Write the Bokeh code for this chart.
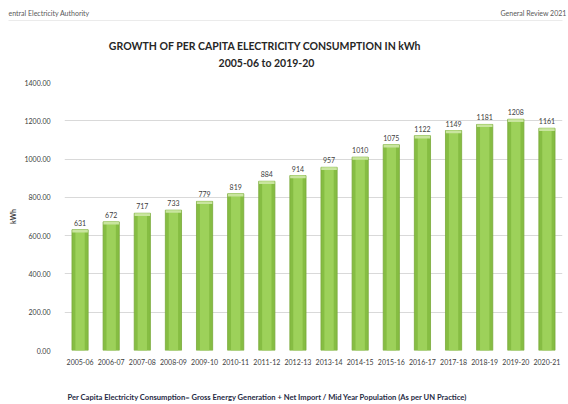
from bokeh.plotting import figure
from bokeh.models import FactorRange, Range1d, FixedTicker, CustomJSTickFormatter, ColumnDataSource
from bokeh.embed import file_html
from bokeh.resources import INLINE
from bokeh.core.properties import value

years = ["2005-06", "2006-07", "2007-08", "2008-09", "2009-10", "2010-11", "2011-12", "2012-13",
         "2013-14", "2014-15", "2015-16", "2016-17", "2017-18", "2018-19", "2019-20", "2020-21"]
consumption = [631, 672, 717, 733, 779, 819, 884, 914, 957, 1010, 1075, 1122, 1149, 1181, 1208, 1161]
y_ticks = [0, 200, 400, 600, 800, 1000, 1200, 1400]

title_text = "GROWTH OF PER CAPITA ELECTRICITY CONSUMPTION IN  kWh"
subtitle_text = "2005-06 to 2019-20"
footnote_text = "Per Capita Electricity Consumption= Gross Energy Generation + Net Import / Mid Year Population (As per UN Practice)"
header_left = "entral Electricity Authority"
header_right = "General Review 2021"

FONT = "Lato"
W = 568
TOP_H = 74
MAIN_H = 300
BOT_H = 30


def blank_fig(h):
    f = figure(width=W, height=h, x_range=Range1d(0, W), y_range=Range1d(h, 0),
               x_axis_type=None, y_axis_type=None, output_backend="svg",
               toolbar_location=None, min_border=0,
               min_border_left=0, min_border_right=0, min_border_top=0, min_border_bottom=0)
    f.outline_line_color = None
    f.grid.visible = False
    return f


# ---- header figure ----
top = blank_fig(TOP_H)
top.text(x=[8], y=[12.7], text=[header_left], text_font=value(FONT), text_font_size="7px",
         text_color="#595959", text_align="left", text_baseline="middle")
top.text(x=[566], y=[12.7], text=[header_right], text_font=value(FONT), text_font_size="7px",
         text_color="#595959", text_align="right", text_baseline="middle")
top.segment(x0=[8], x1=[562], y0=[20], y1=[20], line_color="#ebebeb", line_width=1.2)
top.text(x=[266], y=[45], text=[title_text], text_font=value(FONT), text_font_style="bold",
         text_font_size="10.5px", text_color="#262626", text_align="center", text_baseline="middle")
top.text(x=[266], y=[62], text=[subtitle_text], text_font=value(FONT), text_font_style="bold",
         text_font_size="10.5px", text_color="#262626", text_align="center", text_baseline="middle")

# ---- main chart ----
p = figure(width=W, height=MAIN_H, x_range=FactorRange(*years, range_padding=0),
           y_range=Range1d(0, 1400), output_backend="svg", toolbar_location=None,
           min_border_left=64, min_border_right=6, min_border_top=8, min_border_bottom=24)
p.outline_line_color = None

src = ColumnDataSource(dict(x=years, top=consumption,
                            cap=[v - 14 for v in consumption],
                            lab=[str(v) for v in consumption]))

p.vbar(x="x", top="top", bottom=0, width=0.52, source=src,
       fill_color="#86bd43", line_color="#78aa38", line_width=0.8)
p.vbar(x="x", top="top", bottom=0, width=0.30, source=src,
       fill_color="#9dd15a", line_color=None)
p.vbar(x="x", top="top", bottom="cap", width=0.50, source=src,
       fill_color="#c9e59f", line_color=None)

p.text(x="x", y="top", text="lab", source=src, text_align="center", text_baseline="bottom",
       y_offset=-4, text_font=value(FONT), text_font_size="7px", text_color="#404040")

p.yaxis.ticker = FixedTicker(ticks=y_ticks)
p.yaxis.formatter = CustomJSTickFormatter(code="return tick.toFixed(2);")
p.yaxis.axis_line_color = None
p.yaxis.major_tick_line_color = None
p.yaxis.minor_tick_line_color = None
p.yaxis.major_label_standoff = 8
p.yaxis.major_label_text_font = FONT
p.yaxis.major_label_text_font_size = "7px"
p.yaxis.major_label_text_color = "#404040"
p.yaxis.axis_label = "kWh"
p.yaxis.axis_label_text_font = FONT
p.yaxis.axis_label_text_font_style = "bold"
p.yaxis.axis_label_text_font_size = "7px"
p.yaxis.axis_label_text_color = "#404040"
p.yaxis.axis_label_standoff = 4

p.xaxis.axis_line_color = None
p.xaxis.major_tick_line_color = None
p.xaxis.minor_tick_line_color = None
p.xaxis.major_label_standoff = 2
p.xaxis.major_label_text_font = FONT
p.xaxis.major_label_text_font_size = "7px"
p.xaxis.major_label_text_color = "#404040"

p.xgrid.grid_line_color = None
p.ygrid.grid_line_color = "#d9d9d9"
p.ygrid.grid_line_width = 1

# ---- footnote figure ----
bot = blank_fig(BOT_H)
bot.text(x=[67], y=[22.5], text=[footnote_text], text_font=value(FONT), text_font_style="bold",
         text_font_size="7.6px", text_color="#1f2a44", text_align="left", text_baseline="middle")

open("out.html", "w").write(file_html([top, p, bot], INLINE))
